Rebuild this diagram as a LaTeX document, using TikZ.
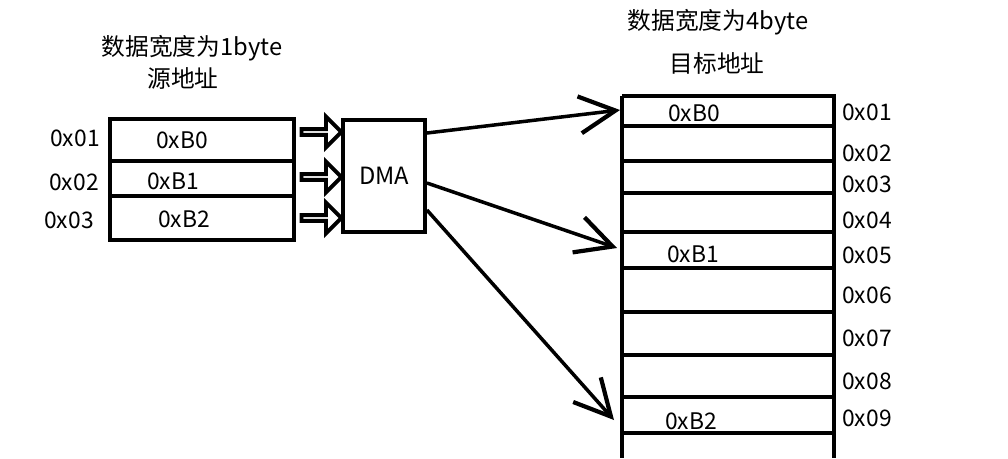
\documentclass[tikz,border=0pt]{standalone}
\usepackage{fontspec}
\setmainfont{Noto Sans CJK SC}
\usetikzlibrary{positioning,shapes.arrows,arrows.meta}

\begin{document}
\begin{tikzpicture}[x=0.02cm,y=-0.02cm,
   cell/.style={draw,line width=2.2pt,inner sep=0pt,minimum width=3.68cm,anchor=north west},
   txt/.style={inner sep=0pt,font=\fontsize{13}{15}\selectfont},
   title/.style={inner sep=0pt,font=\fontsize{13.5}{16}\selectfont},
   hollow/.style={draw,line width=2.2pt,single arrow,inner sep=0pt,minimum height=0.8cm,
                  minimum width=0.62cm,single arrow head extend=0.17cm},
   move/.style={line width=2pt,-{Straight Barb[length=0.72cm,width=0.74cm,line width=2.4pt]}}]
   \useasboundingbox (0,0) rectangle (1008,458);

   % source side
   \node[title] (t_src) at (192,48) {数据宽度为1byte};
   \node[title] (n_src) at (183,78) {源地址};
   \node[cell,minimum height=0.84cm] (src_1) at (108,117) {};
   \node[cell,minimum height=0.70cm] (src_2) at (108,159) {};
   \node[cell,minimum height=0.88cm] (src_3) at (108,194) {};
   \node[txt] (a_1) at (75,138) {0x01};
   \node[txt] (a_2) at (74,182) {0x02};
   \node[txt] (a_3) at (69,220) {0x03};
   \node[txt] (v_1) at (182,140) {0xB0};
   \node[txt] (v_2) at (173,181) {0xB1};
   \node[txt] (v_3) at (184,219) {0xB2};

   % DMA
   \node[hollow] (h_1) at (320,132) {};
   \node[hollow] (h_2) at (320,177) {};
   \node[hollow] (h_3) at (320,218) {};
   \node[draw,line width=2.2pt,minimum width=1.64cm,minimum height=2.24cm,
         font=\fontsize{13.5}{16}\selectfont] (dma) at (384,176) {DMA};

   % destination side
   \node[title] (t_dst) at (718,22) {数据宽度为4byte};
   \node[title] (n_dst) at (717,63) {目标地址};
   \draw[line width=2.2pt] (622,96) -- (622,458) (834,96) -- (834,458);
   \foreach \y in {96,126,161,193,232,268,312,355,397,433}
      \draw[line width=2.2pt] (622,\y) -- (836,\y);
   \foreach \n/\y in {1/112,2/153,3/184,4/220,5/255,6/295,7/338,8/381,9/418}
      \node[txt] (b_\n) at (867,\y) {0x0\n};
   \node[txt] (w_1) at (694,113) {0xB0};
   \node[txt] (w_5) at (693,254) {0xB1};
   \node[txt] (w_9) at (691,421) {0xB2};
   \coordinate (dst_1) at (620,110);
   \coordinate (dst_5) at (617,248);
   \coordinate (dst_9) at (614,420);

   \draw[move] ([yshift=0.86cm]dma.east) -- (dst_1);
   \draw[move] ([yshift=-0.14cm]dma.east) -- (dst_5);
   \draw[move] ([yshift=-0.68cm]dma.east) -- (dst_9);
\end{tikzpicture}
\end{document}
